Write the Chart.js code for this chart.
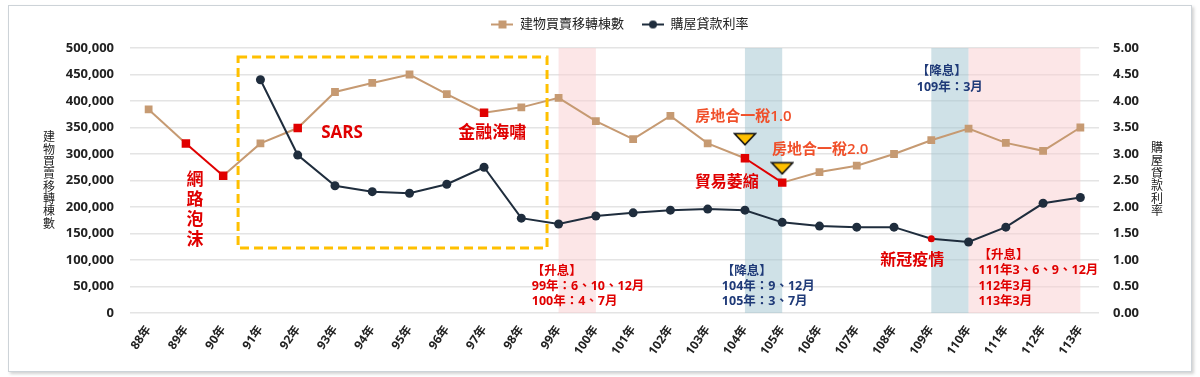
<!DOCTYPE html>
<html>
<head>
<meta charset="utf-8">
<script src="https://cdn.jsdelivr.net/npm/chart.js@4.4.1/dist/chart.umd.min.js"></script>
<style>
  html, body { margin: 0; padding: 0; background: #ffffff; }
  .box { position: absolute; left: 8px; top: 5px; width: 1182px; height: 365px;
         border: 1px solid #cdd3d8; box-shadow: 2px 2px 3px rgba(0,0,0,0.18); background: #fff; }
  #housing-chart { position: absolute; left: 9px; top: 0px; }
</style>
</head>
<body>
<div class="box"></div>
<canvas id="housing-chart" width="1182" height="371"></canvas>
<script>
/// Data
var years = ['88年','89年','90年','91年','92年','93年','94年','95年','96年','97年','98年','99年','100年',
             '101年','102年','103年','104年','105年','106年','107年','108年','109年','110年','111年','112年','113年'];
// 建物買賣移轉棟數 (left axis)
var transfers = [384000, 320000, 259000, 320000, 349000, 417000, 434000, 450000, 413000, 378000, 388000, 406000, 362000,
                 328000, 372000, 320000, 292000, 246000, 266000, 278000, 300000, 326000, 348000, 321000, 306000, 350000];
// 購屋貸款利率 (right axis), no data before 91年
var mortgageRate = [null, null, null, 4.40, 2.98, 2.40, 2.29, 2.26, 2.43, 2.75, 1.79, 1.68, 1.83,
                    1.89, 1.94, 1.96, 1.94, 1.71, 1.64, 1.62, 1.62, 1.40, 1.34, 1.62, 2.07, 2.18];
// years flagged in red on the transfer line (event years)
var eventYears = ['89年','90年','92年','97年','104年','105年'];
var redSegments = ['89年','104年'];   // segment starting at these years drawn red
// house-tax markers (yellow triangles), left-axis values
var taxMarkers = [null, null, null, null, null, null, null, null, null, null, null, null, null,
                  null, null, null, 328000, 273000, null, null, null, null, null, null, null, null];
var yTicksLeft = [0, 500000, 50000];   // min, max, step
var yTicksRight = [0, 5, 0.5];

// shaded periods: [from index, to index, kind]
var periods = [[11, 12, 'up'], [16, 17, 'down'], [21, 22, 'down'], [22, 25, 'up']];

var RED = '#e00000';
var TAN = '#c69a72';
var NAVY = '#1f2d3d';
var ORANGE = '#f0502a';
var BLUE_TXT = '#1f3a78';
var FONT = '"Open Sans", "Noto Sans CJK TC", sans-serif';

// annotation texts anchored in (category index, left-axis value)
var notes = [
	{ lines: ['SARS'], i: 5.19, v: 339000, color: RED, size: 17, weight: 'bold', align: 'center' },
	{ lines: ['金融海嘯'], i: 9.22, v: 339000, color: RED, size: 17, weight: 'bold', align: 'center' },
	{ lines: ['房地合一稅1.0'], i: 15.96, v: 370000, color: ORANGE, size: 15, weight: '600', align: 'center' },
	{ lines: ['房地合一稅2.0'], i: 18.02, v: 307500, color: ORANGE, size: 15, weight: '600', align: 'center' },
	{ lines: ['貿易萎縮'], i: 15.51, v: 247000, color: RED, size: 16, weight: 'bold', align: 'center' },
	{ lines: ['新冠疫情'], i: 20.49, v: 100000, color: RED, size: 16, weight: 'bold', align: 'center' },
	{ lines: ['【升息】', '99年：6、10、12月', '100年：4、7月'], i: 10.28, v: 79000, color: RED, size: 12.5, weight: 'bold', align: 'left', lh: 15 },
	{ lines: ['【降息】', '104年：9、12月', '105年：3、7月'], i: 15.38, v: 79000, color: BLUE_TXT, size: 12.5, weight: 'bold', align: 'left', lh: 15 },
	{ lines: ['【降息】', '109年：3月'], i: 20.61, v: 455000, color: BLUE_TXT, size: 12.5, weight: 'bold', align: 'left', lh: 16 },
	{ lines: ['【升息】', '111年3、6、9、12月', '112年3月', '113年3月'], i: 22.27, v: 109000, color: RED, size: 12.5, weight: 'bold', align: 'left', lh: 15.5 }
];
// vertical label 網路泡沫
var bubbleNote = { text: '網路泡沫', i: 1.245, v: 251000, color: RED, size: 17, pitch: 20 };
// dashed box around 91-98年 (index / value range)
var dashBox = { i0: 2.40, i1: 10.69, v0: 122600, v1: 483000 };

// little canvases for legend symbols (line + marker)
function legendSymbol(color, shape) {
	var c = document.createElement('canvas');
	c.width = 22; c.height = 10;
	var g = c.getContext('2d');
	g.strokeStyle = color; g.lineWidth = 2;
	g.beginPath(); g.moveTo(0, 5); g.lineTo(22, 5); g.stroke();
	g.fillStyle = color;
	if (shape == 'rect') { g.fillRect(7, 1, 8, 8); }
	else { g.beginPath(); g.arc(11, 5, 4, 0, Math.PI * 2); g.fill(); }
	return c;
}
// flat downward triangle for the tax markers
function flatTriangle() {
	var c = document.createElement('canvas');
	c.width = 24; c.height = 14;
	var g = c.getContext('2d');
	g.fillStyle = '#ffc000'; g.strokeStyle = '#111'; g.lineWidth = 1.6;
	g.beginPath(); g.moveTo(1.5, 1.5); g.lineTo(22.5, 1.5); g.lineTo(12, 12.5); g.closePath();
	g.fill(); g.stroke();
	return c;
}

var notesPlugin = {
	id: 'notes',
	beforeDatasetsDraw: function(chart) {
		var ctx = chart.ctx, xs = chart.scales.x, area = chart.chartArea;
		ctx.save();
		periods.forEach(function(p) {
			var x0 = xs.getPixelForValue(p[0]), x1 = xs.getPixelForValue(p[1]);
			ctx.fillStyle = p[2] == 'up' ? 'rgba(250,205,208,0.5)' : 'rgba(160,195,207,0.5)';
			ctx.fillRect(x0, area.top, x1 - x0, area.bottom - area.top);
		});
		ctx.restore();
	},
	afterDatasetsDraw: function(chart) {
		var ctx = chart.ctx, xs = chart.scales.x, ys = chart.scales.y;
		ctx.save();
		// dashed box
		var bx0 = xs.getPixelForValue(dashBox.i0), bx1 = xs.getPixelForValue(dashBox.i1);
		var by0 = ys.getPixelForValue(dashBox.v1), by1 = ys.getPixelForValue(dashBox.v0);
		ctx.strokeStyle = '#ffc000'; ctx.lineWidth = 3; ctx.setLineDash([9, 5]);
		ctx.strokeRect(bx0, by0, bx1 - bx0, by1 - by0);
		ctx.setLineDash([]);

		ctx.textBaseline = 'middle';
		notes.forEach(function(n) {
			ctx.fillStyle = n.color;
			ctx.font = n.weight + ' ' + n.size + 'px ' + FONT;
			ctx.textAlign = n.align;
			var x = xs.getPixelForValue(n.i), y = ys.getPixelForValue(n.v);
			n.lines.forEach(function(t, k) { ctx.fillText(t, x, y + k * (n.lh || 0)); });
		});
		// vertical text
		ctx.fillStyle = bubbleNote.color;
		ctx.font = 'bold ' + bubbleNote.size + 'px ' + FONT;
		ctx.textAlign = 'center';
		var vx = xs.getPixelForValue(bubbleNote.i), vy = ys.getPixelForValue(bubbleNote.v);
		Array.from(bubbleNote.text).forEach(function(ch, k) { ctx.fillText(ch, vx, vy + k * bubbleNote.pitch); });

		// stacked axis titles
		ctx.fillStyle = '#222';
		ctx.font = '12px ' + FONT;
		Array.from('建物買賣移轉棟數').forEach(function(ch, k) { ctx.fillText(ch, 40, 138 + k * 12.3); });
		Array.from('購屋貸款利率').forEach(function(ch, k) { ctx.fillText(ch, 1148, 149 + k * 12.6); });
		ctx.restore();
	}
};

var ctx = document.getElementById('housing-chart');
var cfg = {
	type: 'line',
	data: {
		labels: years,
		datasets: [
			{ label: '建物買賣移轉棟數',
			  data: transfers,
			  yAxisID: 'y',
			  borderColor: TAN,
			  borderWidth: 2,
			  pointStyle: 'rect',
			  pointRadius: function(c) { return eventYears.indexOf(years[c.dataIndex]) >= 0 ? 6 : 5.5; },
			  pointBackgroundColor: function(c) { return eventYears.indexOf(years[c.dataIndex]) >= 0 ? RED : TAN; },
			  pointBorderWidth: 0,
			  segment: { borderColor: function(c) { return redSegments.indexOf(years[c.p0DataIndex]) >= 0 ? RED : TAN; } },
			  order: 2
			},
			{ label: '購屋貸款利率',
			  data: mortgageRate,
			  yAxisID: 'y1',
			  borderColor: NAVY,
			  borderWidth: 2,
			  pointStyle: 'circle',
			  pointRadius: function(c) { return years[c.dataIndex] == '109年' ? 3.5 : 4.5; },
			  pointBackgroundColor: function(c) { return years[c.dataIndex] == '109年' ? RED : NAVY; },
			  pointBorderWidth: 0,
			  order: 1
			},
			{ label: 'tax',
			  data: taxMarkers,
			  yAxisID: 'y',
			  showLine: false,
			  pointStyle: flatTriangle(),
			  pointRadius: 8,
			  order: 0
			}
		]
	},
	options: {
		responsive: false,
		animation: false,
		layout: { padding: { left: 40, right: 0, top: 0, bottom: 0 } },
		plugins: {
			tooltip: { enabled: false },
			// empty subtitle below the legend, only to open a gap above the plot
			subtitle: { display: true, text: '', weight: 500, font: { size: 4, lineHeight: 1 }, padding: { top: 0, bottom: 3 } },
			legend: {
				position: 'top',
				labels: {
					usePointStyle: true,
					pointStyleWidth: 22,
					padding: 18,
					color: '#222',
					font: { family: FONT, size: 13 },
					generateLabels: function(chart) {
						return [
							{ text: '建物買賣移轉棟數', pointStyle: legendSymbol(TAN, 'rect'), datasetIndex: 0, lineWidth: 0, fillStyle: TAN, strokeStyle: TAN, fontColor: '#222' },
							{ text: '購屋貸款利率', pointStyle: legendSymbol(NAVY, 'circle'), datasetIndex: 1, lineWidth: 0, fillStyle: NAVY, strokeStyle: NAVY, fontColor: '#222' }
						];
					}
				}
			}
		},
		scales: {
			x: {
				offset: true,
				grid: { display: false, drawTicks: false },
				border: { display: false },
				ticks: { minRotation: 55, maxRotation: 55, padding: 10, color: '#222', font: { family: FONT, size: 12, weight: 'bold' } },
				afterFit: function(s) { s.height = 58; }
			},
			y: {
				position: 'left',
				min: yTicksLeft[0], max: yTicksLeft[1],
				grid: { color: '#e4e4e4', lineWidth: 1.5, drawTicks: false },
				border: { display: false },
				ticks: { stepSize: yTicksLeft[2], padding: 16, color: '#222', font: { family: FONT, size: 13, weight: 'bold' },
				         callback: function(v) { return v.toLocaleString('en-US'); } },
				afterFit: function(s) { s.width = 81; }
			},
			y1: {
				position: 'right',
				min: yTicksRight[0], max: yTicksRight[1],
				grid: { display: false, drawTicks: false },
				border: { display: false },
				ticks: { stepSize: yTicksRight[2], padding: 14, color: '#222', font: { family: FONT, size: 13, weight: 'bold' },
				         callback: function(v) { return v.toFixed(2); } },
				afterFit: function(s) { s.width = 92; }
			}
		}
	},
	plugins: [notesPlugin]
};
new Chart(ctx, cfg);
</script>
</body>
</html>
